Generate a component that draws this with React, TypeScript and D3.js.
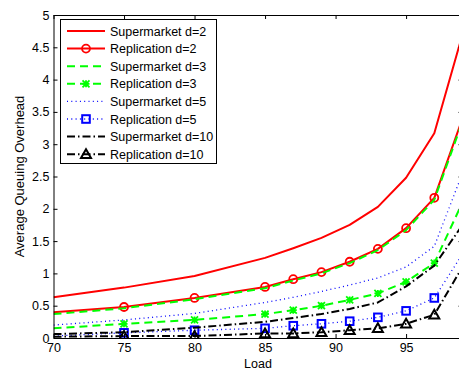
import React, { useRef, useEffect } from 'react';
import * as d3 from 'd3';

// load points (x) and average queuing overhead per policy (y)
const loads = [70, 75, 80, 85, 87, 89, 91, 93, 95, 97, 99];
const superD2 = [0.63, 0.78, 0.96, 1.24, 1.39, 1.55, 1.75, 2.03, 2.48, 3.17, 4.7];
const replD2 = [0.4, 0.48, 0.62, 0.79, 0.91, 1.02, 1.18, 1.38, 1.7, 2.17, 3.4];
const superD3 = [0.37, 0.46, 0.6, 0.77, 0.89, 1.0, 1.16, 1.36, 1.67, 2.14, 3.35];
const replD3 = [0.15, 0.22, 0.28, 0.37, 0.43, 0.5, 0.59, 0.69, 0.87, 1.16, 2.1];
const superD5 = [0.2, 0.28, 0.38, 0.55, 0.63, 0.72, 0.82, 0.93, 1.1, 1.42, 2.55];
const replD5 = [0.03, 0.08, 0.12, 0.15, 0.19, 0.22, 0.26, 0.32, 0.42, 0.62, 1.3];
const superD10 = [0.06, 0.09, 0.16, 0.25, 0.31, 0.37, 0.45, 0.55, 0.8, 1.12, 1.75];
const replD10 = [0.02, 0.03, 0.03, 0.07, 0.07, 0.09, 0.12, 0.15, 0.22, 0.36, 1.1];

const xTicks = [70, 75, 80, 85, 90, 95];
const yTicks = [0, 0.5, 1, 1.5, 2, 2.5, 3, 3.5, 4, 4.5, 5];

type Marker = 'none' | 'circle' | 'star' | 'square' | 'triangle';
type Series = { name: string; values: number[]; color: string; dash: string; width: number; marker: Marker };

const series: Series[] = [
  { name: 'Supermarket d=2', values: superD2, color: '#ff0000', dash: 'none', width: 2, marker: 'none' },
  { name: 'Replication d=2', values: replD2, color: '#ff0000', dash: 'none', width: 2, marker: 'circle' },
  { name: 'Supermarket d=3', values: superD3, color: '#00ff00', dash: '8,5', width: 2, marker: 'none' },
  { name: 'Replication d=3', values: replD3, color: '#00ff00', dash: '8,5', width: 2, marker: 'star' },
  { name: 'Supermarket d=5', values: superD5, color: '#0000ff', dash: '1,3.3', width: 1.3, marker: 'none' },
  { name: 'Replication d=5', values: replD5, color: '#0000ff', dash: '1,3.3', width: 1.3, marker: 'square' },
  { name: 'Supermarket d=10', values: superD10, color: '#000000', dash: '8,3,1.5,3', width: 2, marker: 'none' },
  { name: 'Replication d=10', values: replD10, color: '#000000', dash: '8,3,1.5,3', width: 2, marker: 'triangle' },
];

const FONT = '"Liberation Sans", Arial, Helvetica, sans-serif';

function drawMarker(g: d3.Selection<SVGGElement, unknown, null, undefined>, kind: Marker, x: number, y: number, color: string) {
  if (kind === 'circle') {
    g.append('circle').attr('cx', x).attr('cy', y).attr('r', 4)
      .attr('fill', 'none').attr('stroke', color).attr('stroke-width', 1.8);
  } else if (kind === 'star') {
    const s = 3.5;
    const p = `M${x - s},${y - s}L${x + s},${y + s}M${x - s},${y + s}L${x + s},${y - s}M${x},${y - s}L${x},${y + s}M${x - s},${y}L${x + s},${y}`;
    g.append('path').attr('d', p).attr('stroke', color).attr('stroke-width', 1.8).attr('fill', 'none');
  } else if (kind === 'square') {
    g.append('rect').attr('x', x - 3.8).attr('y', y - 3.8).attr('width', 7.6).attr('height', 7.6)
      .attr('fill', 'none').attr('stroke', color).attr('stroke-width', 2);
  } else if (kind === 'triangle') {
    const s = 5;
    g.append('path').attr('d', `M${x},${y - s}L${x + s},${y + s * 0.75}L${x - s},${y + s * 0.75}Z`)
      .attr('fill', 'none').attr('stroke', color).attr('stroke-width', 2).attr('stroke-linejoin', 'miter');
  }
}

const App: React.FC = () => {
  const svgRef = useRef<SVGSVGElement | null>(null);

  useEffect(() => {
    if (!svgRef.current) return;
    d3.select(svgRef.current).selectAll('*').remove();

    const width = 459;
    const height = 369;
    const left = 53.5;
    const top = 15;
    const right = 462.5;
    const bottom = 338;

    const svg = d3.select(svgRef.current).attr('width', width).attr('height', height);

    const x = d3.scaleLinear().domain([70, 99]).range([left, right]);
    const y = d3.scaleLinear().domain([0, 5]).range([bottom, top]);

    svg.append('rect').attr('width', width).attr('height', height).attr('fill', '#fff');

    svg.append('defs').append('clipPath').attr('id', 'plotClip')
      .append('rect').attr('x', left).attr('y', top).attr('width', right - left).attr('height', bottom - top);

    const plot = svg.append('g').attr('clip-path', 'url(#plotClip)');

    const line = d3.line<number>()
      .x((_, i) => x(loads[i]))
      .y((d) => y(d));

    series.forEach((s) => {
      plot.append('path')
        .datum(s.values)
        .attr('d', line)
        .attr('fill', 'none')
        .attr('stroke', s.color)
        .attr('stroke-width', s.width)
        .attr('stroke-dasharray', s.dash)
        .attr('stroke-linejoin', 'round');
      if (s.marker !== 'none') {
        const mg = plot.append('g');
        s.values.forEach((v, i) => {
          if (loads[i] < 75 || loads[i] > 97) return;
          drawMarker(mg, s.marker, x(loads[i]), y(v), s.color);
        });
      }
    });

    // axes (inward ticks, MATLAB style box)
    const styleAxis = (g: d3.Selection<SVGGElement, unknown, null, undefined>) => {
      g.select('.domain').attr('stroke', '#000').attr('stroke-width', 1);
      g.selectAll('.tick line').attr('stroke', '#000');
      g.selectAll('text').attr('font-family', FONT).attr('font-size', 12.5).attr('fill', '#000');
    };

    svg.append('g').attr('transform', `translate(0,${bottom})`)
      .call(d3.axisBottom(x).tickValues(xTicks).tickSizeInner(-4).tickSizeOuter(0).tickPadding(5.5).tickFormat(d3.format('d')))
      .call(styleAxis);
    svg.append('g').attr('transform', `translate(0,${top})`)
      .call(d3.axisTop(x).tickValues(xTicks).tickSizeInner(-4).tickSizeOuter(0).tickFormat(() => ''))
      .call(styleAxis);
    svg.append('g').attr('transform', `translate(${left},0)`)
      .call(d3.axisLeft(y).tickValues(yTicks).tickSizeInner(-4).tickSizeOuter(0).tickPadding(4).tickFormat((d) => String(d)))
      .call(styleAxis);
    svg.append('g').attr('transform', `translate(${right},0)`)
      .call(d3.axisRight(y).tickValues(yTicks).tickSizeInner(-4).tickSizeOuter(0).tickFormat(() => ''))
      .call(styleAxis);

    svg.append('text')
      .attr('x', 258).attr('y', 367.5)
      .attr('text-anchor', 'middle')
      .attr('font-family', FONT).attr('font-size', 12.5)
      .text('Load');

    svg.append('text')
      .attr('transform', `translate(24,${(top + bottom) / 2}) rotate(-90)`)
      .attr('text-anchor', 'middle')
      .attr('font-family', FONT).attr('font-size', 13)
      .text('Average Queuing Overhead');

    // legend
    const lg = svg.append('g');
    lg.append('rect').attr('x', 60.5).attr('y', 19.5).attr('width', 156).attr('height', 144)
      .attr('fill', '#fff').attr('stroke', '#000').attr('stroke-width', 1);
    series.forEach((s, i) => {
      const ry = 31 + i * 17.6;
      lg.append('line').attr('x1', 67).attr('x2', 105).attr('y1', ry).attr('y2', ry)
        .attr('stroke', s.color).attr('stroke-width', s.width).attr('stroke-dasharray', s.dash);
      if (s.marker !== 'none') drawMarker(lg, s.marker, 86, ry, s.color);
      lg.append('text').attr('x', 110).attr('y', ry + 4.5)
        .attr('font-family', FONT).attr('font-size', 12.5).attr('fill', '#000')
        .text(s.name);
    });
  }, []);

  return <svg ref={svgRef} style={{ position: 'absolute', left: 0, top: 0 }}></svg>;
};

export default App;
